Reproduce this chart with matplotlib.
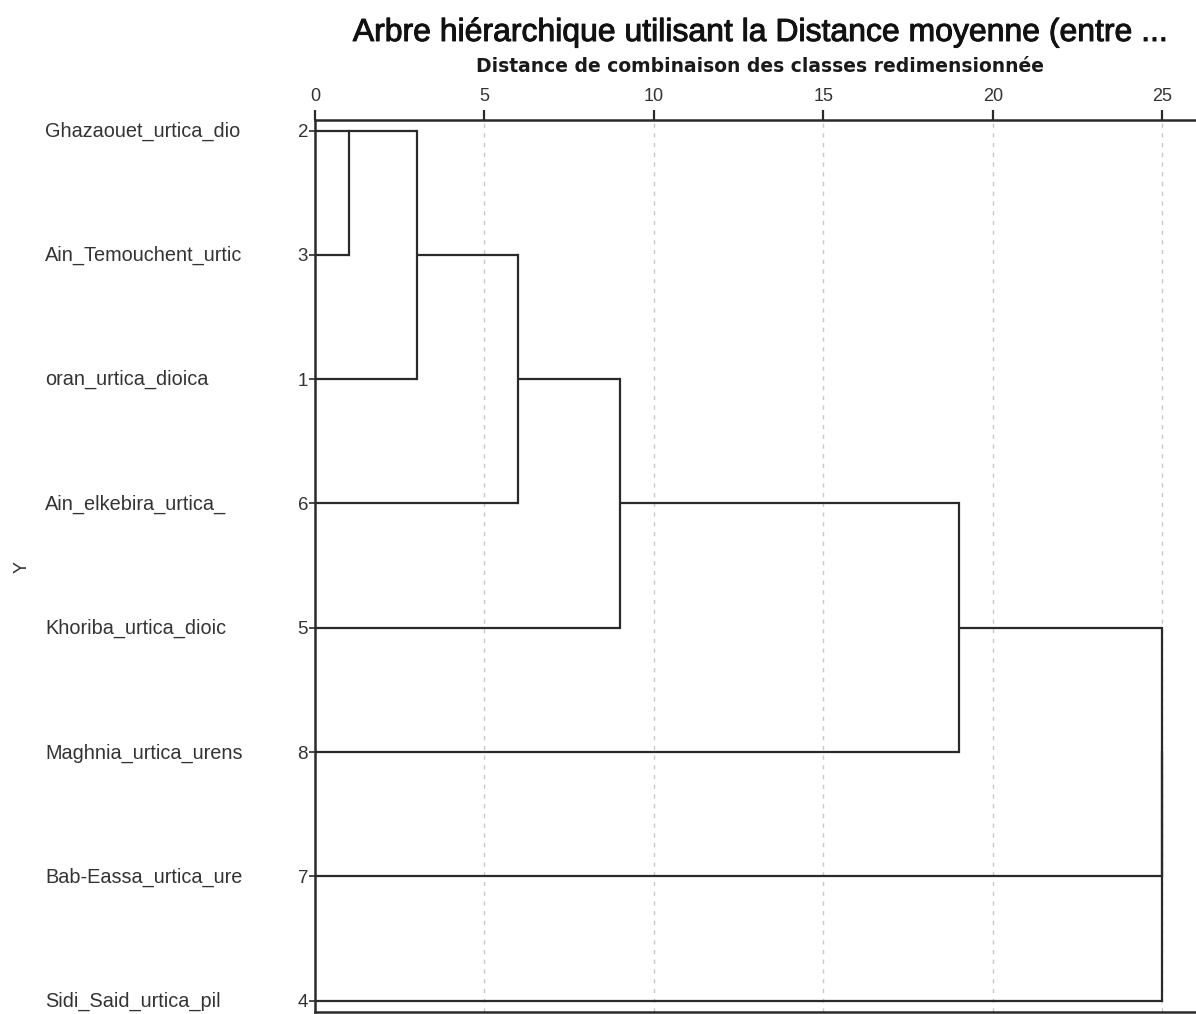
import matplotlib
matplotlib.use("Agg")
import matplotlib.pyplot as plt
import matplotlib.patheffects as pe

plt.rcParams["font.family"] = ["Liberation Sans", "DejaVu Sans"]

# ---- data ----
leaf_names = ["Ghazaouet_urtica_dio", "Ain_Temouchent_urtic", "oran_urtica_dioica",
              "Ain_elkebira_urtica_", "Khoriba_urtica_dioic", "Maghnia_urtica_urens",
              "Bab-Eassa_urtica_ure", "Sidi_Said_urtica_pil"]
leaf_ids = ["2", "3", "1", "6", "5", "8", "7", "4"]
# merges: (cluster A, cluster B, rescaled distance); clusters referenced by leaf id
merge_a = ["2", "2", "2", "2", "2", "2", "2"]
merge_b = ["3", "1", "6", "5", "8", "7", "4"]
merge_dist = [1, 3, 6, 9, 19, 25, 25]
xticks = [0, 5, 10, 15, 20, 25]

fig = plt.figure(figsize=(11.96, 10.14), dpi=100)
ax = fig.add_axes([0.2634, 0.002, 0.7366, 0.8797])

lc = "#2a2a2a"
pos_y = {lid: i for i, lid in enumerate(leaf_ids)}
pos_x = {lid: 0.0 for lid in leaf_ids}
for a, b, d in zip(merge_a, merge_b, merge_dist):
    ya, yb = pos_y[a], pos_y[b]
    ax.plot([pos_x[a], d], [ya, ya], color=lc, lw=1.6, solid_capstyle="butt")
    ax.plot([pos_x[b], d], [yb, yb], color=lc, lw=1.6, solid_capstyle="butt")
    ax.plot([d, d], [ya, yb], color=lc, lw=1.6, solid_capstyle="projecting")
    pos_y[a] = (ya + yb) // 2
    pos_x[a] = d

for t in xticks[1:]:
    ax.axvline(t, color="#c8c8c8", lw=1.0, ls=(0, (3, 4)), zorder=0)

ax.set_xlim(0, 26.0)
ax.set_ylim(len(leaf_ids) - 1 + 0.09, -0.085)
ax.xaxis.set_ticks_position("top")
ax.xaxis.set_label_position("top")
ax.set_xticks(xticks)
ax.set_xticklabels([str(t) for t in xticks], fontsize=13, color="#333333")
ax.tick_params(axis="x", direction="out", length=7, width=1.6, color=lc, pad=4)
ax.set_yticks(range(len(leaf_ids)))
ax.set_yticklabels(leaf_ids, fontsize=13.5, color="#333333")
ax.tick_params(axis="y", direction="out", length=4, width=1.2, color=lc, pad=1)

for s in ["left", "top", "bottom"]:
    ax.spines[s].set_color(lc)
    ax.spines[s].set_linewidth(1.8)
ax.spines["right"].set_visible(False)

for i, n in enumerate(leaf_names):
    fig.text(45 / 1196, 1 - (131 + i * 124.4) / 1014, n, fontsize=14.3, color="#333333",
             ha="left", va="center")

fig.text(760 / 1196, 1 - 66 / 1014, "Distance de combinaison des classes redimensionnée",
         fontsize=13.5, fontweight="bold", family="DejaVu Sans", ha="center", va="center",
         color="#1a1a1a")
fig.text(22 / 1196, 1 - 567 / 1014, "Y", rotation=90, fontsize=13, color="#333333",
         ha="center", va="center")
fig.text(761 / 1196, 1 - 33 / 1014, "Arbre hiérarchique utilisant la Distance moyenne (entre ...",
         fontsize=23, ha="center", va="center", color="#111111",
         path_effects=[pe.withStroke(linewidth=0.7, foreground="#111111")])

fig.savefig("out.png", dpi=100)
